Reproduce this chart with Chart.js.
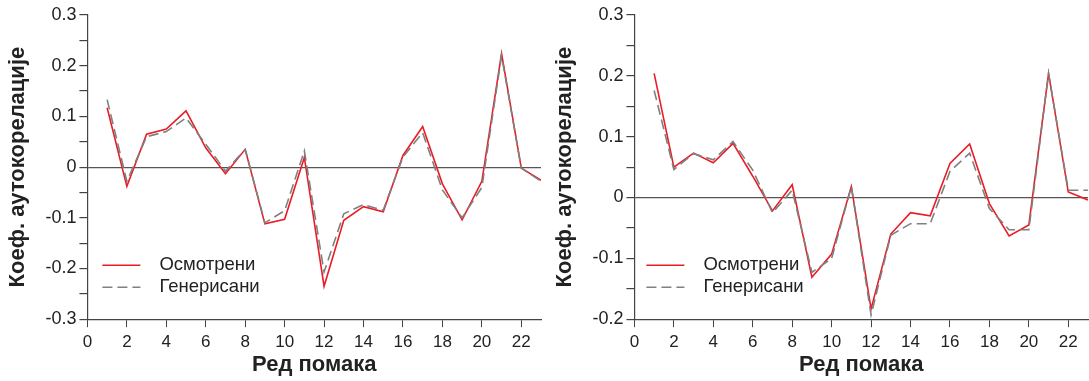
<!DOCTYPE html>
<html>
<head>
<meta charset="utf-8">
<script src="https://cdn.jsdelivr.net/npm/chart.js@4/dist/chart.umd.min.js"></script>
<style>
  html, body { margin: 0; padding: 0; background: #fff; }
  #wrap { position: relative; width: 1089px; height: 381px; }
  #left { position: absolute; left: 0; top: 0; }
  #right { position: absolute; left: 545px; top: 0; }
</style>
</head>
<body>
<div id="wrap">
  <canvas id="left" width="545" height="381"></canvas>
  <canvas id="right" width="544" height="381"></canvas>
</div>
<script>
// Lags and tick positions
const lags = [1, 2, 3, 4, 5, 6, 7, 8, 9, 10, 11, 12, 13, 14, 15, 16, 17, 18, 19, 20, 21, 22, 23];
const xTicks = [0, 2, 4, 6, 8, 10, 12, 14, 16, 18, 20, 22];

// Left panel
const leftObserved = [0.117, -0.038, 0.065, 0.075, 0.111, 0.038, -0.013, 0.035, -0.112, -0.103, 0.019, -0.235,
    -0.105, -0.078, -0.088, 0.023, 0.080, -0.033, -0.104, -0.028, 0.224, -0.002, -0.026];
const leftGenerated = [0.133, -0.028, 0.060, 0.070, 0.097, 0.045, -0.008, 0.035, -0.110, -0.086, 0.032, -0.207,
    -0.092, -0.074, -0.085, 0.020, 0.068, -0.045, -0.100, -0.040, 0.220, -0.002, -0.028];

// Right panel
const rightObserved = [0.204, 0.050, 0.073, 0.057, 0.089, 0.035, -0.022, 0.021, -0.131, -0.093, 0.018, -0.183,
    -0.060, -0.025, -0.030, 0.056, 0.088, -0.010, -0.063, -0.045, 0.204, 0.009, -0.004];
const rightGenerated = [0.176, 0.046, 0.072, 0.062, 0.092, 0.045, -0.025, 0.012, -0.123, -0.100, 0.018, -0.193,
    -0.062, -0.043, -0.043, 0.043, 0.073, -0.018, -0.053, -0.053, 0.204, 0.012, 0.012];

const seriesNames = ['Осмотрени', 'Генерисани'];
const xTitle = 'Ред помака';
const yTitle = 'Коеф. аутокорелације';

const FONT = "'Liberation Sans', Arial, sans-serif";
const TEXT = '#222';
const AXIS = '#444';

// Legend drawn inside the plot area
const innerLegend = {
    id: 'innerLegend',
    afterDatasetsDraw(chart, args, opts) {
        const ctx = chart.ctx;
        const area = chart.chartArea;
        ctx.save();
        ctx.font = '18.5px ' + FONT;
        ctx.textBaseline = 'middle';
        ctx.fillStyle = TEXT;
        const ds = [chart.data.datasets[1], chart.data.datasets[0]];
        ds.forEach((d, i) => {
            const y = area.bottom - opts.bottom + i * 22;
            const x = area.left + opts.left;
            ctx.beginPath();
            ctx.strokeStyle = d.borderColor;
            ctx.lineWidth = d.borderWidth;
            ctx.setLineDash(d.borderDash || []);
            ctx.moveTo(x, y);
            ctx.lineTo(x + 38, y);
            ctx.stroke();
            ctx.setLineDash([]);
            ctx.fillText(d.label, x + 57, y);
        });
        ctx.restore();
    }
};

function makeChart(id, observed, generated, yMin, padLeft, padRight, legendLeft) {
    const pts = arr => lags.map((l, i) => ({ x: l, y: arr[i] }));
    return new Chart(document.getElementById(id), {
        type: 'line',
        data: {
            datasets: [
                {
                    label: seriesNames[1],
                    data: pts(generated),
                    borderColor: '#808080',
                    borderWidth: 1.6,
                    borderDash: [10, 5],
                    pointRadius: 0,
                    tension: 0,
                    order: 1
                },
                {
                    label: seriesNames[0],
                    data: pts(observed),
                    borderColor: '#ea1c26',
                    borderWidth: 1.6,
                    pointRadius: 0,
                    tension: 0,
                    order: 2
                }
            ]
        },
        options: {
            responsive: false,
            animation: false,
            layout: { padding: { left: padLeft, right: padRight, top: 15, bottom: 0 } },
            plugins: {
                legend: { display: false },
                tooltip: { enabled: false },
                innerLegend: { left: legendLeft, bottom: 54 }
            },
            scales: {
                x: {
                    type: 'linear',
                    min: 0,
                    max: 23,
                    afterBuildTicks: scale => { scale.ticks = xTicks.map(v => ({ value: v })); },
                    grid: { drawOnChartArea: false, tickLength: 8, tickColor: AXIS },
                    border: { color: AXIS, width: 1.2 },
                    ticks: { color: TEXT, font: { family: FONT, size: 17 }, padding: 5, maxRotation: 0 },
                    title: {
                        display: true, text: xTitle, color: TEXT,
                        font: { family: FONT, size: 22, weight: 'bold' },
                        padding: { top: -6, bottom: 3 }
                    }
                },
                y: {
                    min: yMin,
                    max: 0.3,
                    ticks: {
                        stepSize: 0.05,
                        color: TEXT,
                        font: { family: FONT, size: 18 },
                        padding: 3,
                        callback: v => {
                            const r = Math.round(v * 100);
                            if (r % 10 !== 0) return '';
                            return r === 0 ? '0' : (r / 100).toFixed(1);
                        }
                    },
                    grid: {
                        drawOnChartArea: true,
                        tickLength: 8,
                        tickColor: AXIS,
                        color: c => (Math.abs(c.tick.value) < 1e-9 ? '#555' : 'rgba(0,0,0,0)'),
                        lineWidth: 1.2
                    },
                    border: { color: AXIS, width: 1.2 },
                    title: {
                        display: true, text: yTitle, color: TEXT,
                        font: { family: FONT, size: 22, weight: 'bold' },
                        padding: { top: 0, bottom: 11 }
                    }
                }
            }
        },
        plugins: [innerLegend]
    });
}

makeChart('left', leftObserved, leftGenerated, -0.3, 5, 4, 15);
makeChart('right', rightObserved, rightGenerated, -0.2, 7, 1, 12);
</script>
</body>
</html>
